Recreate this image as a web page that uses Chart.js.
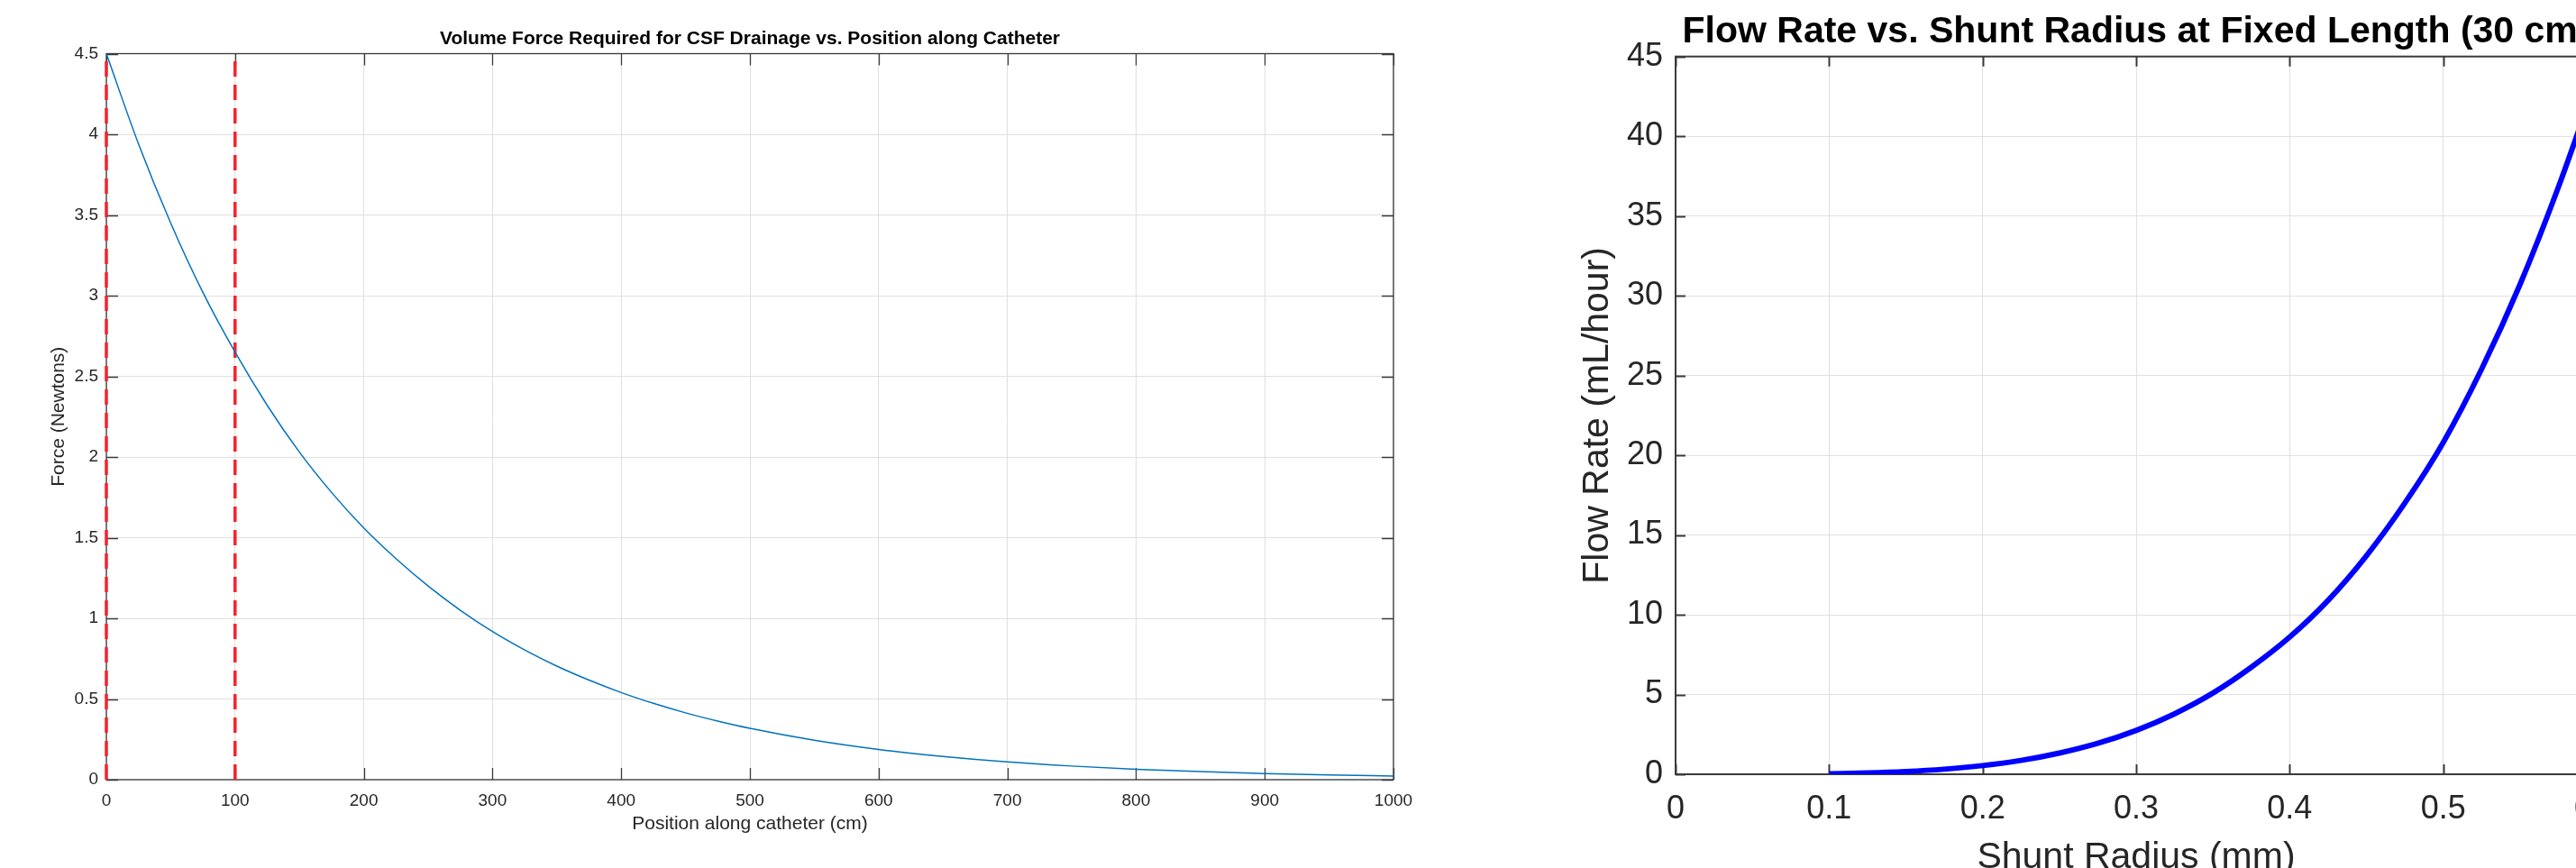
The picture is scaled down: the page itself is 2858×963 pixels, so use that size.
<!DOCTYPE html>
<html>
<head>
<meta charset="utf-8">
<title>CSF shunt plots</title>
<script src="https://cdn.jsdelivr.net/npm/chart.js@4.4.1/dist/chart.umd.min.js"></script>
<style>
    body { margin: 0; width: 2858px; height: 963px; overflow: hidden; background: #fff; position: relative; }
    canvas { position: absolute; top: 0; }
</style>
</head>
<body>
<canvas id="forceChart" width="1664" height="963" style="left:0"></canvas>
<canvas id="flowChart" width="1540" height="1000" style="left:1600px"></canvas>
<script>
// left plot: force along the catheter
const positionCm = [0, 25, 50, 75, 100, 125, 150, 175, 200, 225, 250, 275, 300, 325, 350, 375, 400, 425, 450, 475, 500, 550, 600, 650, 700, 750, 800, 850, 900, 950, 1000];
const forceN = [4.5, 3.94, 3.45, 3.02, 2.65, 2.32, 2.03, 1.78, 1.56, 1.37, 1.2, 1.05, 0.918, 0.804, 0.704, 0.617, 0.54, 0.473, 0.414, 0.363, 0.318, 0.244, 0.187, 0.144, 0.11, 0.0845, 0.0648, 0.0498, 0.0382, 0.0293, 0.0225];
const markerCm = [0, 100];
const positionTicks = [0, 100, 200, 300, 400, 500, 600, 700, 800, 900, 1000];
const positionTickLabels = ['0', '100', '200', '300', '400', '500', '600', '700', '800', '900', '1000'];
const forceTicks = [0, 0.5, 1, 1.5, 2, 2.5, 3, 3.5, 4, 4.5];
const forceTickLabels = ['0', '0.5', '1', '1.5', '2', '2.5', '3', '3.5', '4', '4.5'];

// right plot: flow rate vs shunt radius
const radiusMm = [0.1, 0.125, 0.15, 0.175, 0.2, 0.225, 0.25, 0.275, 0.3, 0.325, 0.35, 0.375, 0.4, 0.425, 0.45, 0.475, 0.5, 0.525, 0.55, 0.575, 0.6];
const flowMlHr = [0.034, 0.083, 0.172, 0.318, 0.543, 0.87, 1.33, 1.94, 2.75, 3.79, 5.09, 6.71, 8.6, 10.9, 13.7, 17.0, 20.8, 25.4, 30.7, 36.8, 43.6];
const radiusTicks = [0, 0.1, 0.2, 0.3, 0.4, 0.5, 0.6];
const radiusTickLabels = ['0', '0.1', '0.2', '0.3', '0.4', '0.5', '0.6'];
const flowTicks = [0, 5, 10, 15, 20, 25, 30, 35, 40, 45];
const flowTickLabels = ['0', '5', '10', '15', '20', '25', '30', '35', '40', '45'];

Chart.defaults.font.family = '"Liberation Sans", Arial, Helvetica, sans-serif';
Chart.defaults.color = '#262626';

// matlab style box with ticks pointing inward on all four sides
const axesBox = {
    id: 'axesBox',
    beforeDatasetsDraw(chart, args, opts) {
        const { ctx, chartArea: a, scales: { x, y } } = chart;
        ctx.save();
        ctx.strokeStyle = opts.color;
        ctx.lineWidth = opts.width;
        ctx.beginPath();
        x.ticks.forEach(t => {
            const px = Math.round(x.getPixelForValue(t.value)) + 0.5;
            ctx.moveTo(px, a.bottom); ctx.lineTo(px, a.bottom - opts.len);
            ctx.moveTo(px, a.top); ctx.lineTo(px, a.top + opts.len);
        });
        y.ticks.forEach(t => {
            const py = Math.round(y.getPixelForValue(t.value)) + 0.5;
            ctx.moveTo(a.left, py); ctx.lineTo(a.left + opts.len, py);
            ctx.moveTo(a.right, py); ctx.lineTo(a.right - opts.len, py);
        });
        ctx.stroke();
        ctx.strokeRect(a.left, a.top, a.right - a.left, a.bottom - a.top);
        ctx.restore();
    }
};

function fixedTicks(values) {
    return scale => { scale.ticks = values.map(v => ({ value: v })); };
}

function makeScales(cfg) {
    return {
        x: {
            type: 'linear',
            min: cfg.xTicks[0],
            max: cfg.xTicks[cfg.xTicks.length - 1],
            afterBuildTicks: fixedTicks(cfg.xTicks),
            afterFit: s => { s.height = cfg.xHeight; },
            grid: { color: '#e0e0e0', lineWidth: 1, drawTicks: false },
            border: { display: false },
            ticks: {
                autoSkip: false, maxRotation: 0, padding: cfg.xTickPad,
                font: { size: cfg.tickSize },
                callback: (v, i) => cfg.xLabels[i]
            },
            title: {
                display: true, text: cfg.xTitle, color: '#262626',
                font: { size: cfg.labelSize },
                padding: { top: 0, bottom: cfg.xTitlePad }
            }
        },
        y: {
            type: 'linear',
            min: cfg.yTicks[0],
            max: cfg.yTicks[cfg.yTicks.length - 1],
            afterBuildTicks: fixedTicks(cfg.yTicks),
            afterFit: s => { s.width = cfg.yWidth; },
            grid: { color: '#e0e0e0', lineWidth: 1, drawTicks: false },
            border: { display: false },
            ticks: {
                autoSkip: false, padding: cfg.yTickPad,
                font: { size: cfg.tickSize },
                callback: (v, i) => cfg.yLabels[i]
            },
            title: {
                display: true, text: cfg.yTitle, color: '#262626',
                font: { size: cfg.labelSize },
                padding: { top: cfg.yTitlePad, bottom: 0 }
            }
        }
    };
}

function drawForceChart() {
    const ctx = document.getElementById('forceChart').getContext('2d');
    const markerSets = markerCm.map(m => ({
        data: [{ x: m, y: forceTicks[0] }, { x: m, y: forceTicks[forceTicks.length - 1] }],
        borderColor: '#f5222d',
        borderWidth: 3.5,
        borderDash: [17, 9],
        pointRadius: 0,
        clip: false
    }));
    new Chart(ctx, {
        type: 'line',
        data: {
            datasets: [{
                data: positionCm.map((p, i) => ({ x: p, y: forceN[i] })),
                borderColor: '#0072bd',
                borderWidth: 1.5,
                cubicInterpolationMode: 'monotone',
                pointRadius: 0
            }, ...markerSets]
        },
        options: {
            responsive: false,
            animation: false,
            devicePixelRatio: 1,
            layout: { padding: { left: 0, right: 118, top: 0, bottom: 0 } },
            plugins: {
                legend: { display: false },
                tooltip: { enabled: false },
                title: {
                    display: true,
                    fullSize: false,
                    text: 'Volume Force Required for CSF Drainage vs. Position along Catheter',
                    color: '#000',
                    font: { size: 21, weight: 'bold' },
                    padding: { top: 31, bottom: 3.3 }
                },
                axesBox: { color: '#3a3a3a', width: 1.3, len: 13 }
            },
            scales: makeScales({
                xTicks: positionTicks, xLabels: positionTickLabels,
                yTicks: forceTicks, yLabels: forceTickLabels,
                xTitle: 'Position along catheter (cm)', yTitle: 'Force (Newtons)',
                tickSize: 19, labelSize: 21,
                xHeight: 98, yWidth: 118,
                xTickPad: 12, yTickPad: 9,
                xTitlePad: 35.7, yTitlePad: 52.4
            })
        },
        plugins: [axesBox]
    });
}

function drawFlowChart() {
    const ctx = document.getElementById('flowChart').getContext('2d');
    new Chart(ctx, {
        type: 'line',
        data: {
            datasets: [{
                data: radiusMm.map((r, i) => ({ x: r, y: flowMlHr[i] })),
                borderColor: '#0000ff',
                borderWidth: 6,
                cubicInterpolationMode: 'monotone',
                pointRadius: 0
            }]
        },
        options: {
            responsive: false,
            animation: false,
            devicePixelRatio: 1,
            layout: { padding: { left: 0, right: 259, top: 0, bottom: 0 } },
            plugins: {
                legend: { display: false },
                tooltip: { enabled: false },
                title: {
                    display: true,
                    fullSize: false,
                    text: 'Flow Rate vs. Shunt Radius at Fixed Length (30 cm)',
                    color: '#000',
                    font: { size: 41, weight: 'bold' },
                    padding: { top: 11.5, bottom: 2.0 }
                },
                axesBox: { color: '#3a3a3a', width: 2, len: 11 }
            },
            scales: makeScales({
                xTicks: radiusTicks, xLabels: radiusTickLabels,
                yTicks: flowTicks, yLabels: flowTickLabels,
                xTitle: 'Shunt Radius (mm)', yTitle: 'Flow Rate (mL/hour)',
                tickSize: 36, labelSize: 41,
                xHeight: 141, yWidth: 259,
                xTickPad: 17, yTickPad: 14,
                xTitlePad: 23.5, yTitlePad: 148.4
            })
        },
        plugins: [axesBox]
    });
}

drawForceChart();
drawFlowChart();
</script>
</body>
</html>
